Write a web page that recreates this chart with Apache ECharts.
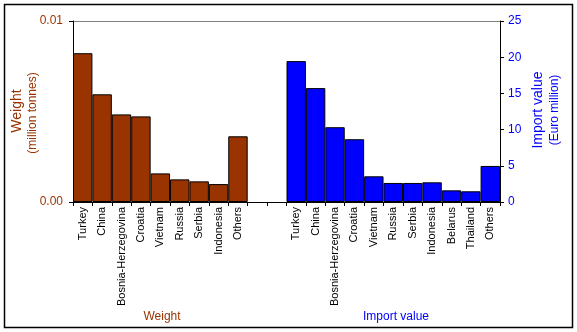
<!DOCTYPE html>
<html>
<head>
<meta charset="utf-8">
<script src="https://cdn.jsdelivr.net/npm/echarts@6/dist/echarts.min.js"></script>
<style>
  html, body { margin: 0; padding: 0; background: #fff; }
  #chart { width: 577px; height: 332px; }
</style>
</head>
<body>
<div id="chart"></div>
<script>
// Categories: weight block, two empty spacer slots, then import value block
const weightCountries = ['Turkey', 'China', 'Bosnia-Herzegovina', 'Croatia', 'Vietnam', 'Russia', 'Serbia', 'Indonesia', 'Others'];
const valueCountries = ['Turkey', 'China', 'Bosnia-Herzegovina', 'Croatia', 'Vietnam', 'Russia', 'Serbia', 'Indonesia', 'Belarus', 'Thailand', 'Others'];
const spacer = ['', ''];

// Weight (million tonnes)
const weightValues = [0.00822, 0.00595, 0.00484, 0.00473, 0.00158, 0.00125, 0.00114, 0.00099, 0.00363];
// Import value (Euro million)
const importValues = [19.46, 15.73, 10.33, 8.67, 3.55, 2.63, 2.63, 2.72, 1.61, 1.48, 4.98];

const weightTicks = [0, 0.01];
const valueTicks = [0, 5, 10, 15, 20, 25];

const BROWN = '#993300';
const BLUE = '#0000FF';
const FONT = 'Liberation Sans, Arial, sans-serif';

const categories = weightCountries.concat(spacer, valueCountries);
const blanks = n => new Array(n).fill('-');
const weightData = weightValues.concat(blanks(spacer.length + valueCountries.length));
const importData = blanks(weightCountries.length + spacer.length).concat(importValues);

const chart = echarts.init(document.getElementById('chart'), null, { renderer: 'canvas' });

chart.setOption({
  animation: false,
  backgroundColor: '#fff',
  textStyle: { fontFamily: FONT },
  grid: { left: 73, right: 77, top: 21, bottom: 130, containLabel: false },
  xAxis: {
    type: 'category',
    data: categories,
    boundaryGap: true,
    axisLine: { lineStyle: { color: '#000', width: 1 } },
    axisTick: { show: true, interval: 0, length: 4, lineStyle: { color: '#000' } },
    axisLabel: {
      interval: 0, rotate: 90, margin: 5,
      color: '#000', fontSize: 11, fontFamily: FONT
    },
    splitLine: { show: false }
  },
  yAxis: [
    {
      type: 'value',
      position: 'left',
      min: weightTicks[0],
      max: weightTicks[weightTicks.length - 1],
      interval: weightTicks[1] - weightTicks[0],
      axisLine: { show: true, lineStyle: { color: '#000' } },
      axisTick: { show: true, length: 4, lineStyle: { color: '#000' } },
      axisLabel: { color: BROWN, fontSize: 12, margin: 10, fontFamily: FONT,
                   formatter: v => v.toFixed(2) },
      splitLine: { show: true, lineStyle: { color: '#808080', width: 1 } }
    },
    {
      type: 'value',
      position: 'right',
      min: valueTicks[0],
      max: valueTicks[valueTicks.length - 1],
      interval: valueTicks[1] - valueTicks[0],
      axisLine: { show: true, lineStyle: { color: '#000' } },
      axisTick: { show: true, length: 4, lineStyle: { color: '#000' } },
      axisLabel: { color: BLUE, fontSize: 12, margin: 8, fontFamily: FONT },
      splitLine: { show: false }
    }
  ],
  series: [
    {
      name: 'Weight',
      type: 'bar',
      yAxisIndex: 0,
      data: weightData,
      barCategoryGap: 0,
      barGap: '-100%',
      itemStyle: { color: BROWN, borderColor: '#000', borderWidth: 1 }
    },
    {
      name: 'Import value',
      type: 'bar',
      yAxisIndex: 1,
      data: importData,
      barCategoryGap: 0,
      barGap: '-100%',
      itemStyle: { color: BLUE, borderColor: '#000', borderWidth: 1 }
    }
  ],
  graphic: [
    {
      type: 'rect',
      shape: { x: 4.5, y: 4.5, width: 568, height: 323 },
      style: { fill: null, stroke: '#000', lineWidth: 1.5 },
      silent: true, z: -1
    },
    {
      type: 'text', x: 17, y: 111, rotation: Math.PI / 2,
      style: { text: 'Weight', fill: BROWN, font: '14px ' + FONT, textAlign: 'center', textVerticalAlign: 'middle' }
    },
    {
      type: 'text', x: 33, y: 113, rotation: Math.PI / 2,
      style: { text: '(million tonnes)', fill: BROWN, font: '12px ' + FONT, textAlign: 'center', textVerticalAlign: 'middle' }
    },
    {
      type: 'text', x: 538, y: 110, rotation: Math.PI / 2,
      style: { text: 'Import value', fill: BLUE, font: '14px ' + FONT, textAlign: 'center', textVerticalAlign: 'middle' }
    },
    {
      type: 'text', x: 555, y: 110, rotation: Math.PI / 2,
      style: { text: '(Euro million)', fill: BLUE, font: '12px ' + FONT, textAlign: 'center', textVerticalAlign: 'middle' }
    },
    {
      type: 'text', x: 162, y: 317,
      style: { text: 'Weight', fill: BROWN, font: '12px ' + FONT, textAlign: 'center', textVerticalAlign: 'middle' }
    },
    {
      type: 'text', x: 396, y: 317,
      style: { text: 'Import value', fill: BLUE, font: '12px ' + FONT, textAlign: 'center', textVerticalAlign: 'middle' }
    }
  ]
});
</script>
</body>
</html>
